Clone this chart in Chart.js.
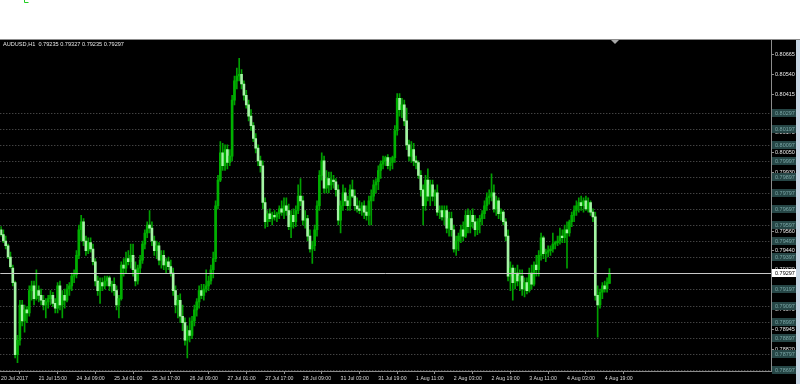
<!DOCTYPE html>
<html><head><meta charset="utf-8">
<script src="https://cdn.jsdelivr.net/npm/chart.js@4/dist/chart.umd.min.js"></script>
<style>html,body{margin:0;padding:0;background:#fff;overflow:hidden}canvas{display:block}</style>
</head><body>
<canvas id="c" width="800" height="384"></canvas>
<script>
const symbol = "AUDUSD,H1";
const opens = [
0.7957,0.7954,0.7950,0.7947,0.7940,0.7933,0.7924,0.7879,0.7888,0.7910,
0.7900,0.7907,0.7905,0.7919,0.7922,0.7914,0.7919,0.7916,0.7913,0.7910,
0.7912,0.7914,0.7916,0.7911,0.7908,0.7922,0.7910,0.7916,0.7913,0.7920,
0.7922,0.7928,0.7929,0.7941,0.7957,0.7962,0.7950,0.7944,0.7949,0.7945,
0.7937,0.7925,0.7919,0.7924,0.7922,0.7925,0.7927,0.7922,0.7923,0.7919,
0.7910,0.7914,0.7935,0.7933,0.7939,0.7937,0.7941,0.7932,0.7925,0.7933,
0.7938,0.7948,0.7955,0.7960,0.7958,0.7950,0.7944,0.7947,0.7938,0.7941,
0.7935,0.7937,0.7934,0.7930,0.7919,0.7910,0.7913,0.7903,0.7899,0.7888,
0.7894,0.7891,0.7900,0.7907,0.7912,0.7919,0.7916,0.7920,0.7922,0.7925,
0.7932,0.7939,0.7972,0.7988,0.8005,0.7997,0.8007,0.7999,0.8003,0.8038,
0.8050,0.8053,0.8054,0.8048,0.8041,0.8035,0.8028,0.8022,0.8014,0.8008,
0.8000,0.7997,0.7974,0.7962,0.7967,0.7964,0.7966,0.7965,0.7967,0.7970,
0.7968,0.7972,0.7969,0.7959,0.7966,0.7962,0.7969,0.7978,0.7975,0.7963,
0.7964,0.7953,0.7945,0.7947,0.7957,0.7972,0.7991,0.8000,0.7983,0.7989,
0.7985,0.7988,0.7987,0.7982,0.7963,0.7972,0.7980,0.7975,0.7972,0.7982,
0.7978,0.7972,0.7970,0.7969,0.7972,0.7968,0.7966,0.7975,0.7978,0.7985,
0.7987,0.7994,0.7998,0.8000,0.8002,0.7997,0.7999,0.8002,0.8019,0.8039,
0.8032,0.8035,0.8025,0.8010,0.8003,0.8007,0.8000,0.7999,0.7991,0.7982,
0.7972,0.7988,0.7978,0.7985,0.7978,0.7980,0.7968,0.7969,0.7965,0.7969,
0.7958,0.7964,0.7957,0.7945,0.7950,0.7953,0.7957,0.7953,0.7966,0.7959,
0.7966,0.7962,0.7957,0.7962,0.7964,0.7967,0.7972,0.7977,0.7978,0.7980,
0.7970,0.7975,0.7967,0.7968,0.7962,0.7953,0.7928,0.7933,0.7924,0.7930,
0.7925,0.7928,0.7920,0.7924,0.7919,0.7930,0.7923,0.7935,0.7932,0.7941,
0.7952,0.7942,0.7943,0.7944,0.7945,0.7948,0.7949,0.7950,0.7953,0.7952,
0.7957,0.7955,0.7962,0.7966,0.7969,0.7972,0.7974,0.7972,0.7975,0.7970,
0.7974,0.7968,0.7965,0.7916,0.7910,0.7918,0.7922,0.7920,0.79235];
const highs = [
0.7959,0.7957,0.7953,0.7948,0.7943,0.7935,0.7925,0.7891,0.7913,0.7913,
0.7910,0.7909,0.7922,0.7925,0.7925,0.7932,0.7922,0.7920,0.7916,0.7914,
0.7916,0.7919,0.7918,0.7914,0.7924,0.7925,0.7919,0.7920,0.7923,0.7924,
0.7930,0.7932,0.7944,0.7960,0.7966,0.7964,0.7953,0.7952,0.7952,0.7948,
0.7939,0.7928,0.7927,0.7927,0.7928,0.7928,0.7928,0.7925,0.7927,0.7922,
0.7916,0.7937,0.7939,0.7943,0.7944,0.7948,0.7948,0.7937,0.7935,0.7941,
0.7950,0.7957,0.7962,0.7969,0.7962,0.7953,0.7950,0.7949,0.7944,0.7944,
0.7939,0.7940,0.7938,0.7933,0.7922,0.7916,0.7917,0.7910,0.7902,0.7897,
0.7902,0.7903,0.7910,0.7914,0.7922,0.7923,0.7923,0.7932,0.7928,0.7935,
0.7943,0.7975,0.7991,0.8012,0.8011,0.8010,0.8010,0.8007,0.8041,0.8053,
0.8058,0.8064,0.8057,0.8050,0.8044,0.8038,0.8032,0.8024,0.8017,0.8010,
0.8003,0.8000,0.7977,0.7969,0.7970,0.7968,0.7969,0.7968,0.7972,0.7975,
0.7977,0.7977,0.7973,0.7969,0.7970,0.7972,0.7985,0.7989,0.7978,0.7969,
0.7966,0.7957,0.7950,0.7960,0.7975,0.7994,0.8005,0.8003,0.7994,0.7993,
0.7993,0.7991,0.7989,0.7985,0.7975,0.7985,0.7983,0.7978,0.7985,0.7988,
0.7982,0.7977,0.7975,0.7974,0.7975,0.7972,0.7978,0.7982,0.7988,0.7989,
0.7997,0.8000,0.8003,0.8003,0.8004,0.8002,0.8003,0.8022,0.8042,0.8042,
0.8039,0.8038,0.8033,0.8013,0.8012,0.8011,0.8003,0.8000,0.7994,0.7985,
0.7991,0.7995,0.7988,0.7988,0.7982,0.7985,0.7972,0.7972,0.7972,0.7972,
0.7968,0.7968,0.7960,0.7953,0.7955,0.7960,0.7962,0.7969,0.7970,0.7969,
0.7970,0.7966,0.7964,0.7966,0.7969,0.7975,0.7980,0.7982,0.7992,0.7985,
0.7978,0.7977,0.7970,0.7969,0.7964,0.7957,0.7937,0.7935,0.7933,0.7935,
0.7932,0.7932,0.7927,0.7927,0.7933,0.7935,0.7937,0.7941,0.7944,0.7955,
0.7953,0.7945,0.7947,0.7947,0.7955,0.7950,0.7953,0.7958,0.7957,0.7960,
0.7962,0.7963,0.7968,0.7972,0.7975,0.7977,0.7978,0.7977,0.7978,0.7977,
0.7975,0.7970,0.7968,0.7922,0.7920,0.7924,0.7925,0.7927,0.79327];
const lows = [
0.7953,0.7949,0.7945,0.7939,0.7933,0.7922,0.7877,0.7874,0.7885,0.7897,
0.7893,0.7899,0.7903,0.7913,0.7910,0.7913,0.7912,0.7910,0.7907,0.7902,
0.7908,0.7910,0.7909,0.7905,0.7905,0.7907,0.7902,0.7908,0.7912,0.7916,
0.7919,0.7924,0.7927,0.7939,0.7950,0.7947,0.7941,0.7942,0.7943,0.7935,
0.7922,0.7916,0.7911,0.7919,0.7920,0.7922,0.7919,0.7918,0.7916,0.7907,
0.7902,0.7913,0.7928,0.7930,0.7935,0.7933,0.7928,0.7922,0.7923,0.7930,
0.7936,0.7945,0.7952,0.7955,0.7947,0.7941,0.7939,0.7935,0.7933,0.7932,
0.7930,0.7932,0.7928,0.7916,0.7905,0.7902,0.7899,0.7894,0.7885,0.7877,
0.7887,0.7889,0.7897,0.7903,0.7908,0.7914,0.7913,0.7918,0.7919,0.7923,
0.7927,0.7937,0.7970,0.7987,0.7994,0.7994,0.7995,0.7997,0.8000,0.8035,
0.8045,0.8050,0.8045,0.8038,0.8033,0.8025,0.8019,0.8012,0.8005,0.7997,
0.7993,0.7970,0.7958,0.7959,0.7962,0.7960,0.7963,0.7962,0.7964,0.7966,
0.7964,0.7966,0.7957,0.7952,0.7958,0.7959,0.7967,0.7972,0.7960,0.7958,
0.7950,0.7943,0.7936,0.7944,0.7953,0.7969,0.7988,0.7980,0.7980,0.7980,
0.7982,0.7983,0.7978,0.7960,0.7955,0.7969,0.7972,0.7969,0.7969,0.7977,
0.7969,0.7968,0.7967,0.7966,0.7964,0.7963,0.7960,0.7960,0.7975,0.7980,
0.7982,0.7989,0.7995,0.7997,0.7995,0.7994,0.7995,0.7999,0.8016,0.8028,
0.8027,0.8022,0.8007,0.8000,0.7999,0.7997,0.7995,0.7989,0.7978,0.7960,
0.7969,0.7975,0.7972,0.7975,0.7972,0.7966,0.7964,0.7963,0.7960,0.7955,
0.7953,0.7953,0.7943,0.7941,0.7944,0.7949,0.7950,0.7952,0.7955,0.7955,
0.7958,0.7953,0.7954,0.7955,0.7960,0.7964,0.7969,0.7973,0.7975,0.7968,
0.7966,0.7964,0.7963,0.7960,0.7950,0.7925,0.7919,0.7913,0.7920,0.7922,
0.7919,0.7916,0.7915,0.7917,0.7918,0.7920,0.7922,0.7928,0.7928,0.7938,
0.7939,0.7937,0.7940,0.7941,0.7943,0.7945,0.7947,0.7948,0.7949,0.7949,
0.7933,0.7953,0.7959,0.7962,0.7966,0.7968,0.7969,0.7968,0.7969,0.7968,
0.7966,0.7962,0.7913,0.7890,0.7908,0.7914,0.7918,0.7918,0.79235];
const closes = [
0.7954,0.7950,0.7947,0.7940,0.7934,0.7924,0.7879,0.7888,0.7910,0.7900,
0.7907,0.7905,0.7919,0.7922,0.7914,0.7919,0.7916,0.7913,0.7910,0.7912,
0.7914,0.7916,0.7911,0.7908,0.7922,0.7910,0.7916,0.7913,0.7920,0.7922,
0.7928,0.7929,0.7941,0.7957,0.7962,0.7950,0.7944,0.7949,0.7945,0.7937,
0.7925,0.7919,0.7924,0.7922,0.7925,0.7927,0.7922,0.7923,0.7919,0.7910,
0.7914,0.7935,0.7933,0.7939,0.7937,0.7941,0.7932,0.7925,0.7933,0.7938,
0.7948,0.7955,0.7960,0.7958,0.7950,0.7944,0.7947,0.7938,0.7941,0.7935,
0.7937,0.7934,0.7930,0.7919,0.7910,0.7913,0.7903,0.7899,0.7888,0.7894,
0.7891,0.7900,0.7907,0.7912,0.7919,0.7916,0.7920,0.7922,0.7925,0.7932,
0.7939,0.7972,0.7988,0.8005,0.7997,0.8007,0.7999,0.8003,0.8038,0.8050,
0.8053,0.8054,0.8048,0.8041,0.8035,0.8028,0.8022,0.8014,0.8008,0.8000,
0.7997,0.7974,0.7962,0.7967,0.7964,0.7966,0.7965,0.7967,0.7970,0.7968,
0.7972,0.7969,0.7959,0.7966,0.7962,0.7969,0.7978,0.7975,0.7963,0.7964,
0.7953,0.7945,0.7947,0.7957,0.7972,0.7991,0.8000,0.7983,0.7989,0.7985,
0.7988,0.7987,0.7982,0.7963,0.7972,0.7980,0.7975,0.7972,0.7982,0.7978,
0.7972,0.7970,0.7969,0.7972,0.7968,0.7966,0.7975,0.7978,0.7985,0.7987,
0.7994,0.7998,0.8000,0.8002,0.7997,0.7999,0.8002,0.8019,0.8039,0.8032,
0.8035,0.8025,0.8010,0.8003,0.8007,0.8000,0.7999,0.7991,0.7982,0.7972,
0.7988,0.7978,0.7985,0.7978,0.7980,0.7968,0.7969,0.7965,0.7969,0.7958,
0.7964,0.7957,0.7945,0.7950,0.7953,0.7957,0.7953,0.7966,0.7959,0.7966,
0.7962,0.7957,0.7962,0.7964,0.7967,0.7972,0.7977,0.7978,0.7980,0.7970,
0.7975,0.7967,0.7968,0.7962,0.7953,0.7928,0.7933,0.7924,0.7930,0.7925,
0.7928,0.7920,0.7924,0.7919,0.7930,0.7923,0.7935,0.7932,0.7941,0.7952,
0.7942,0.7943,0.7944,0.7945,0.7948,0.7949,0.7950,0.7953,0.7952,0.7957,
0.7955,0.7962,0.7966,0.7969,0.7972,0.7974,0.7972,0.7975,0.7970,0.7974,
0.7968,0.7965,0.7916,0.7910,0.7918,0.7922,0.7920,0.7924,0.79297];
const timeLabels = ["20 Jul 2017","21 Jul 15:00","24 Jul 09:00","25 Jul 01:00","25 Jul 17:00","26 Jul 09:00","27 Jul 01:00","27 Jul 17:00","28 Jul 09:00","31 Jul 03:00","31 Jul 19:00","1 Aug 11:00","2 Aug 03:00","2 Aug 19:00","3 Aug 11:00","4 Aug 03:00","4 Aug 19:00"];
const barsPerTimeLabel = 16;
const priceTicks = [0.80665,0.80540,0.80415,0.80295,0.80175,0.80050,0.79930,0.79805,0.79685,0.79560,0.79440,0.79320,0.79195,0.79070,0.78945,0.78820];
const levelLines = [0.80297,0.80197,0.80097,0.79997,0.79897,0.79797,0.79697,0.79597,0.79497,0.79397,0.79197,0.79097,0.78997,0.78897,0.78797,0.78697];
const bidPrice = 0.79297;

const FONT = 'Liberation Sans, Arial, sans-serif';
const wickData = highs.map((h, i) => ({x: i, y: [lows[i], h]}));
const bodyData = opens.map((o, i) => ({x: i, y: [o, closes[i]]}));
const bodyColors = opens.map((o, i) => closes[i] >= o ? '#00b000' : '#a4f4a4');

const mtPlugin = {
  id: 'mt',
  beforeDraw(chart) {
    const ctx = chart.ctx;
    ctx.save();
    ctx.fillStyle = '#ffffff'; ctx.fillRect(0, 0, 800, 384);
    ctx.fillStyle = '#000000'; ctx.fillRect(0, 40, 800, 344);
    ctx.fillStyle = '#8c8c8c'; ctx.fillRect(0, 39, 800, 1);
    ctx.fillStyle = '#c8d6e4'; ctx.fillRect(796, 40, 4, 344);
    ctx.strokeStyle = '#22cc22'; ctx.lineWidth = 1;
    ctx.beginPath(); ctx.moveTo(24.5, 0); ctx.lineTo(24.5, 2.5); ctx.lineTo(28.5, 2.5); ctx.stroke();
    ctx.restore();
  },
  beforeDatasetsDraw(chart) {
    const ctx = chart.ctx, ys = chart.scales.y, a = chart.chartArea;
    ctx.save();
    ctx.strokeStyle = '#5e5e5e'; ctx.lineWidth = 1; ctx.setLineDash([1, 2]);
    levelLines.forEach(v => {
      const y = Math.round(ys.getPixelForValue(v)) + 0.5;
      ctx.beginPath(); ctx.moveTo(a.left, y); ctx.lineTo(a.right, y); ctx.stroke();
    });
    ctx.restore();
  },
  afterDatasetsDraw(chart) {
    const ctx = chart.ctx, ys = chart.scales.y, a = chart.chartArea;
    ctx.save();
    ctx.strokeStyle = '#c8c8c8'; ctx.lineWidth = 1;
    const y = Math.round(ys.getPixelForValue(bidPrice)) + 0.5;
    ctx.beginPath(); ctx.moveTo(a.left, y); ctx.lineTo(a.right, y); ctx.stroke();
    ctx.restore();
  },
  afterDraw(chart) {
    const ctx = chart.ctx, ys = chart.scales.y, a = chart.chartArea;
    ctx.save();
    ctx.font = '5.5px ' + FONT;
    ctx.textBaseline = 'middle';
    ctx.textAlign = 'left';
    levelLines.forEach(v => {
      const y = Math.round(ys.getPixelForValue(v));
      ctx.fillStyle = '#264646'; ctx.fillRect(a.right + 1, y - 4, 24, 8);
      ctx.fillStyle = '#7aa6a6'; ctx.fillText(v.toFixed(5), a.right + 4, y + 0.5);
    });
    const yb = Math.round(ys.getPixelForValue(bidPrice));
    ctx.fillStyle = '#ffffff'; ctx.fillRect(a.right + 1, yb - 4, 24, 8);
    ctx.fillStyle = '#000000'; ctx.fillText(bidPrice.toFixed(5), a.right + 4, yb + 0.5);
    const n = closes.length - 1;
    ctx.fillStyle = '#e6e6e6';
    ctx.font = '5.6px ' + FONT;
    ctx.fillText(symbol + '  ' + opens[n].toFixed(5) + ' ' + highs[n].toFixed(5) + ' ' + lows[n].toFixed(5) + ' ' + closes[n].toFixed(5), 3, 44.5);
    ctx.fillStyle = '#a8a8a8';
    ctx.beginPath(); ctx.moveTo(611, 40); ctx.lineTo(619, 40); ctx.lineTo(615, 44); ctx.closePath(); ctx.fill();
    ctx.restore();
  }
};

new Chart(document.getElementById('c'), {
  type: 'bar',
  data: {
    datasets: [
      {data: wickData, barThickness: 1, backgroundColor: '#00a000', borderWidth: 0, grouped: false, order: 2, minBarLength: 1},
      {data: bodyData, barThickness: 2, backgroundColor: bodyColors, borderWidth: 0, grouped: false, order: 1, minBarLength: 1}
    ]
  },
  options: {
    responsive: false,
    animation: false,
    devicePixelRatio: 1,
    layout: {padding: {top: 40, left: 0, right: 0, bottom: 0}},
    plugins: {legend: {display: false}, tooltip: {enabled: false}, title: {display: false}},
    scales: {
      x: {
        type: 'linear', min: -0.3, max: 326.5, offset: false,
        grid: {drawOnChartArea: false, drawTicks: true, tickLength: 3, tickColor: '#8c8c8c', color: '#8c8c8c'},
        border: {display: true, color: '#8c8c8c'},
        ticks: {color: '#d8d8d8', font: {family: FONT, size: 5.2}, align: 'start', padding: 1, maxRotation: 0, autoSkip: false,
          callback: (v, i) => timeLabels[i]},
        afterBuildTicks: s => { s.ticks = timeLabels.map((_, k) => ({value: k * barsPerTimeLabel})); },
        afterFit: s => { s.height = 13; }
      },
      y: {
        type: 'linear', position: 'right', min: 0.78688, max: 0.80755,
        grid: {drawOnChartArea: false, drawTicks: true, tickLength: 3, tickColor: '#8c8c8c', color: '#8c8c8c'},
        border: {display: true, color: '#8c8c8c'},
        ticks: {color: '#e6e6e6', font: {family: FONT, size: 5.5}, padding: 1, autoSkip: false,
          callback: v => v.toFixed(5)},
        afterBuildTicks: s => { s.ticks = priceTicks.map(v => ({value: v})); },
        afterFit: s => { s.width = 29; }
      }
    }
  },
  plugins: [mtPlugin]
});
</script>
</body></html>
